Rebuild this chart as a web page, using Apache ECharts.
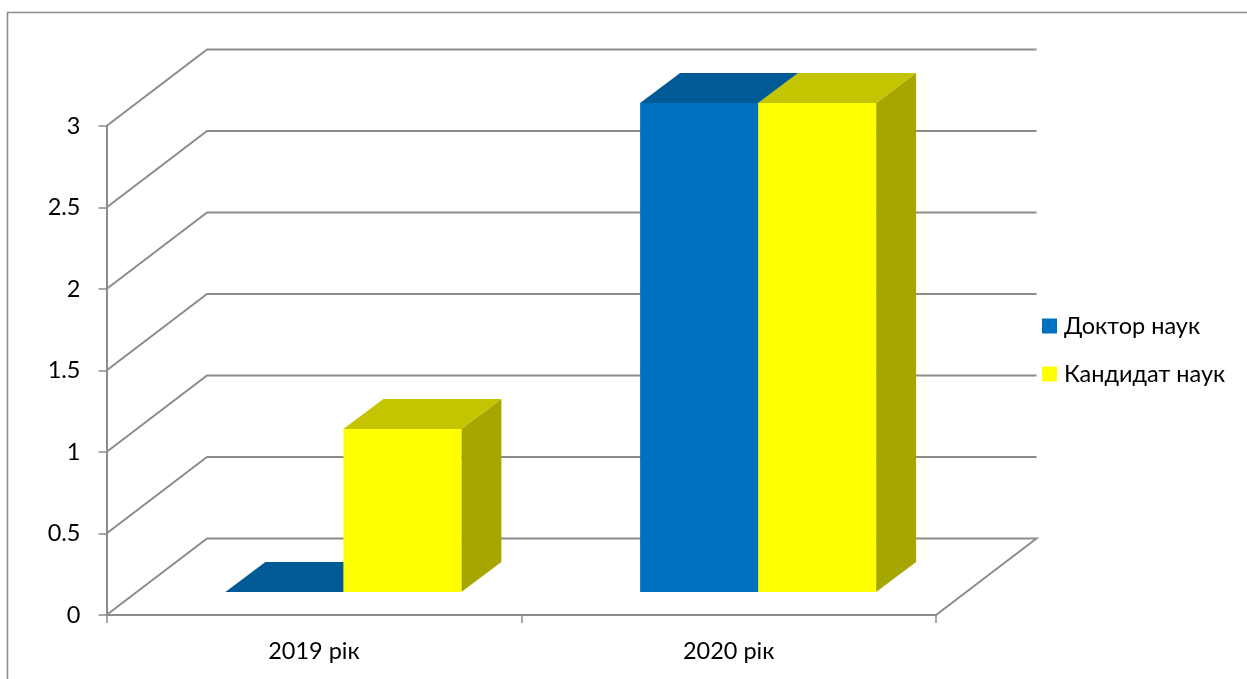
<!DOCTYPE html>
<html>
<head>
<meta charset="utf-8">
<style>html,body{margin:0;padding:0;background:#fff}#chart{width:1247px;height:679px}</style>
<script src="https://cdn.jsdelivr.net/npm/echarts@6/dist/echarts.min.js"></script>
</head>
<body>
<div id="chart"></div>
<script>
var categories = ['2019 рік', '2020 рік'];
var doctorValues = [0, 3];
var candidateValues = [1, 3];
var tickValues = [0, 0.5, 1, 1.5, 2, 2.5, 3];
var seriesNames = ['Доктор наук', 'Кандидат наук'];

var FONT = 'Lato, "Open Sans", sans-serif';
var FONT_SIZE = 23.5;
var GRID_COLOR = '#8c8c8c';
var WALL_DX = 100.5, WALL_DY = -76.5;
var FLOOR_DX = 29.5, FLOOR_DY = -23;
var DEPTH_DX = 40, DEPTH_DY = -30;
var BAR_RATIO = 0.2845;

function gridRender(params, api) {
  var v = api.value(0);
  var half = api.size([1, 0])[0] / 2;
  var left = api.coord([0, v])[0] - half;
  var right = api.coord([categories.length - 1, v])[0] + half;
  var y = api.coord([0, v])[1];
  var pts = [[left, y], [left + WALL_DX, y + WALL_DY], [right + WALL_DX, y + WALL_DY]];
  if (v === 0) pts.push([right, y]);
  return {
    type: 'polyline',
    shape: { points: pts },
    style: { fill: null, stroke: GRID_COLOR, lineWidth: 2 }
  };
}

function barRenderer(side, front, top, right) {
  return function (params, api) {
    var idx = api.value(0), val = api.value(1);
    var w = api.size([1, 0])[0] * BAR_RATIO;
    var base = api.coord([idx, 0]);
    var head = api.coord([idx, val]);
    var x0 = base[0] + FLOOR_DX + (side === 0 ? -w : 0);
    var x1 = x0 + w;
    var yb = base[1] + FLOOR_DY;
    var yt = head[1] + FLOOR_DY;
    var children = [];
    if (val > 0) {
      children.push({ type: 'polygon', shape: { points: [[x1, yb], [x1 + DEPTH_DX, yb + DEPTH_DY], [x1 + DEPTH_DX, yt + DEPTH_DY], [x1, yt]] }, style: { fill: right } });
    }
    children.push({ type: 'polygon', shape: { points: [[x0, yt], [x0 + DEPTH_DX, yt + DEPTH_DY], [x1 + DEPTH_DX, yt + DEPTH_DY], [x1, yt]] }, style: { fill: top } });
    if (val > 0) {
      children.push({ type: 'rect', shape: { x: x0, y: yt, width: w, height: yb - yt }, style: { fill: front } });
    }
    return { type: 'group', children: children };
  };
}

var chart = echarts.init(document.getElementById('chart'), null, { renderer: 'canvas' });
chart.setOption({
  animation: false,
  backgroundColor: '#fff',
  textStyle: { fontFamily: FONT },
  grid: { left: 106.5, top: 126, width: 829.5, height: 489, containLabel: false },
  legend: {
    orient: 'vertical',
    left: 1042, top: 314,
    padding: 0,
    itemWidth: 15, itemHeight: 15, itemGap: 24,
    icon: 'rect',
    data: seriesNames,
    textStyle: { fontFamily: FONT, fontSize: FONT_SIZE, color: '#000', padding: [0, 0, 0, 2] }
  },
  xAxis: {
    type: 'category',
    data: categories,
    boundaryGap: true,
    axisLine: { lineStyle: { color: GRID_COLOR, width: 2 } },
    axisTick: { show: true, length: 8, alignWithLabel: false, lineStyle: { color: GRID_COLOR, width: 1.5 } },
    axisLabel: { margin: 24, fontFamily: FONT, fontSize: FONT_SIZE, color: '#000' },
    splitLine: { show: false }
  },
  yAxis: {
    type: 'value',
    min: 0, max: 3, interval: 0.5,
    axisLine: { show: true, lineStyle: { color: GRID_COLOR, width: 2 } },
    axisTick: { show: true, length: 8, lineStyle: { color: GRID_COLOR, width: 1.5 } },
    axisLabel: { margin: 26, fontFamily: FONT, fontSize: FONT_SIZE, color: '#000' },
    splitLine: { show: false }
  },
  graphic: [{
    type: 'polyline',
    silent: true,
    z: -1,
    shape: { points: [[7.5, 700], [7.5, 12.5], [1260, 12.5]] },
    style: { fill: null, stroke: GRID_COLOR, lineWidth: 1.6 }
  }],
  series: [
    {
      type: 'custom', name: 'grid', z: 1, silent: true,
      coordinateSystem: 'cartesian2d',
      renderItem: gridRender,
      encode: { y: 0 },
      data: tickValues.map(function (v) { return [v]; })
    },
    {
      type: 'custom', name: seriesNames[0], z: 2,
      renderItem: barRenderer(0, '#0070c0', '#005a96', '#005a96'),
      itemStyle: { color: '#0070c0' },
      encode: { x: 0, y: 1 },
      data: doctorValues.map(function (v, i) { return [i, v]; })
    },
    {
      type: 'custom', name: seriesNames[1], z: 3,
      renderItem: barRenderer(1, '#ffff00', '#c4c400', '#a6a600'),
      itemStyle: { color: '#ffff00' },
      encode: { x: 0, y: 1 },
      data: candidateValues.map(function (v, i) { return [i, v]; })
    }
  ]
});
</script>
</body>
</html>
